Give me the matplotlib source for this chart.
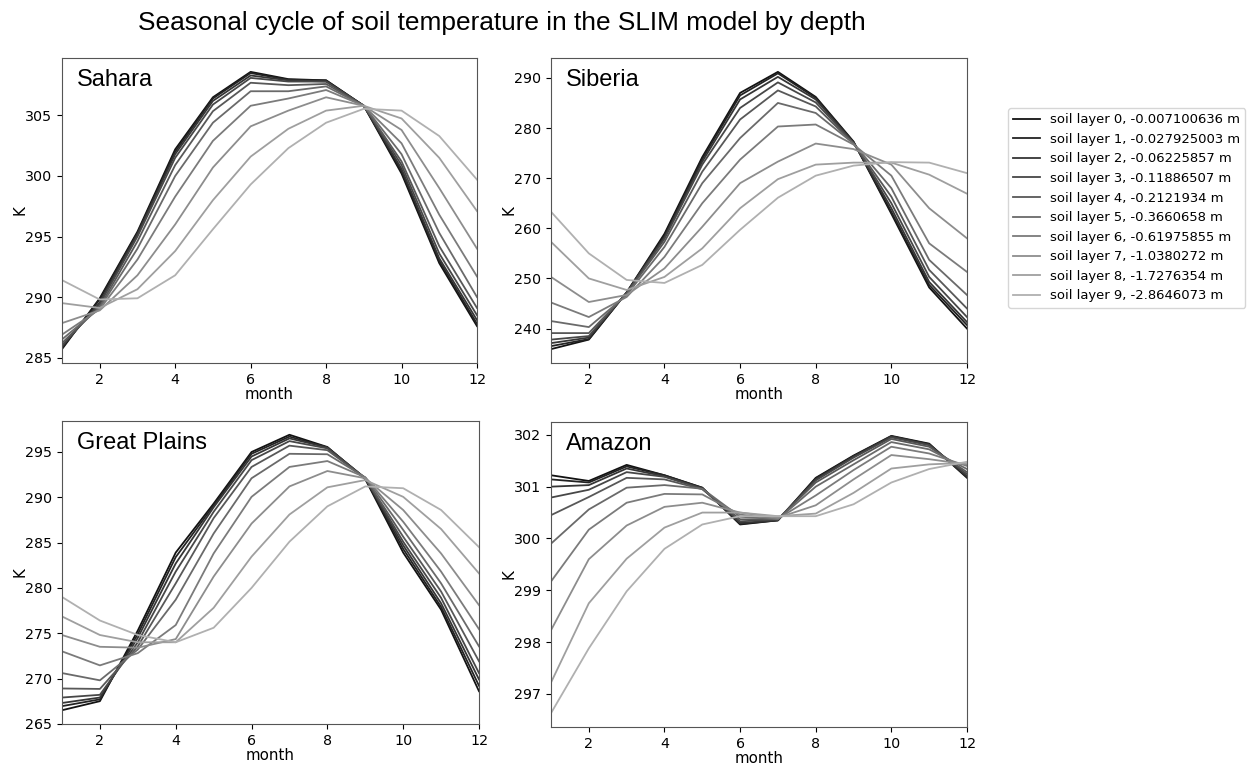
import matplotlib
matplotlib.use("Agg")
import matplotlib.pyplot as plt

months = list(range(1, 13))
depths = ["-0.007100636", "-0.027925003", "-0.06225857", "-0.11886507", "-0.2121934",
          "-0.3660658", "-0.61975855", "-1.0380272", "-1.7276354", "-2.8646073"]

# soil temperature (K), one row per layer (0 = top), one column per month
sahara = [
    [285.7, 289.9, 295.4, 302.2, 306.5, 308.6, 308.0, 307.9, 305.8, 300.2, 292.8, 287.6],
    [285.8, 289.8, 295.3, 302.0, 306.4, 308.5, 307.95, 307.9, 305.8, 300.4, 293.0, 287.8],
    [285.9, 289.55, 295.2, 301.8, 306.2, 308.3, 307.9, 307.8, 305.8, 300.6, 293.2, 288.1],
    [286.0, 289.4, 295.0, 301.5, 305.9, 308.1, 307.8, 307.8, 305.8, 300.9, 293.6, 288.5],
    [286.2, 289.2, 294.6, 300.9, 305.35, 307.7, 307.5, 307.6, 305.8, 301.2, 294.2, 289.1],
    [286.5, 289.1, 294.0, 300.0, 304.4, 307.0, 307.0, 307.4, 305.8, 301.8, 295.3, 290.0],
    [286.9, 289.0, 293.1, 298.3, 302.9, 305.8, 306.4, 307.1, 305.8, 302.7, 296.8, 291.7],
    [287.85, 288.9, 291.8, 296.0, 300.7, 304.1, 305.4, 306.5, 305.8, 303.8, 299.0, 294.0],
    [289.5, 289.1, 290.65, 293.8, 298.0, 301.6, 303.9, 305.4, 305.8, 304.75, 301.5, 297.1],
    [291.4, 289.8, 289.9, 291.8, 295.6, 299.3, 302.3, 304.4, 305.55, 305.4, 303.3, 299.7],
]
siberia = [
    [235.9, 237.8, 247.2, 258.9, 274.2, 287.0, 291.2, 286.2, 277.3, 262.9, 248.2, 240.0],
    [236.5, 237.9, 247.2, 258.5, 273.8, 286.5, 290.9, 286.0, 277.2, 263.3, 248.7, 240.7],
    [237.1, 238.2, 247.2, 258.2, 273.3, 285.7, 290.2, 285.7, 277.1, 264.0, 249.3, 241.3],
    [237.8, 238.5, 247.1, 257.9, 272.7, 284.0, 289.1, 285.1, 277.0, 265.0, 250.3, 242.3],
    [239.1, 239.1, 247.0, 257.3, 271.3, 281.7, 287.5, 284.3, 276.9, 266.3, 251.7, 244.0],
    [241.5, 240.3, 246.7, 256.3, 269.0, 278.0, 285.0, 283.0, 276.9, 268.0, 253.7, 246.7],
    [245.2, 242.3, 246.3, 254.3, 265.0, 273.7, 280.3, 280.7, 276.7, 270.5, 257.0, 251.3],
    [250.3, 245.3, 246.7, 252.0, 260.3, 269.0, 273.3, 276.9, 275.8, 272.7, 264.0, 258.0],
    [257.3, 250.0, 247.7, 250.3, 256.0, 264.0, 269.8, 272.7, 273.1, 273.1, 270.7, 266.9],
    [263.3, 255.0, 249.7, 249.1, 252.7, 259.7, 266.1, 270.5, 272.5, 273.2, 273.1, 271.0],
]
great_plains = [
    [266.5, 267.5, 275.3, 283.9, 289.3, 295.0, 296.9, 295.55, 292.0, 283.9, 277.6, 268.6],
    [266.95, 267.7, 274.9, 283.4, 289.1, 294.8, 296.7, 295.5, 292.1, 284.3, 277.9, 269.2],
    [267.3, 267.9, 274.5, 282.7, 288.9, 294.5, 296.5, 295.5, 292.1, 284.7, 278.3, 269.9],
    [267.9, 268.2, 274.0, 281.8, 288.4, 294.1, 296.2, 295.4, 292.1, 285.1, 278.9, 270.6],
    [268.9, 268.85, 273.55, 280.5, 287.7, 293.35, 295.7, 295.2, 292.1, 285.65, 279.6, 271.9],
    [270.6, 269.8, 273.2, 278.7, 286.0, 292.1, 294.8, 294.75, 292.2, 286.4, 280.5, 273.55],
    [273.0, 271.45, 272.8, 275.9, 283.8, 290.05, 293.35, 294.0, 292.2, 287.3, 281.8, 275.45],
    [274.8, 273.5, 273.4, 274.35, 281.25, 287.1, 291.2, 292.9, 292.1, 288.6, 283.8, 278.1],
    [276.85, 274.8, 274.0, 274.0, 277.8, 283.45, 288.1, 291.1, 291.9, 290.05, 286.5, 281.6],
    [279.0, 276.4, 274.8, 274.0, 275.6, 280.0, 285.1, 289.0, 291.2, 291.0, 288.6, 284.5],
]
amazon = [
    [301.22, 301.11, 301.42, 301.22, 300.98, 300.27, 300.35, 301.17, 301.6, 301.98, 301.83, 301.17],
    [301.14, 301.08, 301.39, 301.22, 300.98, 300.28, 300.35, 301.16, 301.59, 301.97, 301.82, 301.19],
    [301.0, 301.03, 301.35, 301.2, 300.97, 300.3, 300.35, 301.14, 301.58, 301.97, 301.81, 301.2],
    [300.79, 300.94, 301.28, 301.19, 300.96, 300.33, 300.37, 301.12, 301.56, 301.95, 301.8, 301.24],
    [300.45, 300.8, 301.17, 301.14, 300.95, 300.37, 300.37, 301.08, 301.51, 301.92, 301.77, 301.28],
    [299.9, 300.56, 300.98, 301.03, 300.96, 300.42, 300.37, 301.0, 301.43, 301.86, 301.72, 301.34],
    [299.17, 300.17, 300.69, 300.86, 300.85, 300.46, 300.38, 300.83, 301.32, 301.77, 301.64, 301.4],
    [298.23, 299.6, 300.25, 300.61, 300.69, 300.5, 300.4, 300.64, 301.14, 301.61, 301.53, 301.43],
    [297.22, 298.75, 299.61, 300.21, 300.5, 300.5, 300.43, 300.48, 300.88, 301.35, 301.43, 301.46],
    [296.63, 297.88, 298.98, 299.8, 300.27, 300.43, 300.43, 300.43, 300.66, 301.08, 301.34, 301.48],
]

regions = ["Sahara", "Siberia", "Great Plains", "Amazon"]
data = [sahara, siberia, great_plains, amazon]

W, H = 1252, 767
fig = plt.figure(figsize=(W / 100, H / 100), dpi=100)

# axes boxes in pixels: left, top, right, bottom
boxes = [(62, 58, 477, 363), (551, 58, 967, 363), (62, 421, 479, 724), (551, 422, 967, 727)]

handles = []
for k, (name, vals) in enumerate(zip(regions, data)):
    l, t, r, b = boxes[k]
    ax = fig.add_axes([l / W, 1 - b / H, (r - l) / W, (b - t) / H])
    for i, row in enumerate(vals):
        g = str(round(0.07 + i * 0.069, 3))
        ln, = ax.plot(months, row, color=g, lw=1.3,
                      label="soil layer %d, %s m" % (i, depths[i]))
        if k == 0:
            handles.append(ln)
    ax.set_xlim(1, 12)
    ax.set_xticks([2, 4, 6, 8, 10, 12])
    ax.tick_params(labelsize=10.3)
    ax.set_xlabel("month", fontsize=10.8, labelpad=0)
    ax.set_ylabel("K", fontsize=10.8, labelpad=-2)
    for s in ax.spines.values():
        s.set_color("#555555")
    ax.text(0.035, 0.965, name, transform=ax.transAxes, va="top", ha="left",
            fontsize=17, family="Liberation Sans")

fig.text(502 / W, 1 - 23 / H, "Seasonal cycle of soil temperature in the SLIM model by depth",
         ha="center", va="center", fontsize=18.9, family="Liberation Sans")

fig.legend(handles=handles, loc="upper left", bbox_to_anchor=(1001.5 / W, 1 - 101.5 / H),
           fontsize=9.45, frameon=True)

fig.savefig("out.png", dpi=100)
